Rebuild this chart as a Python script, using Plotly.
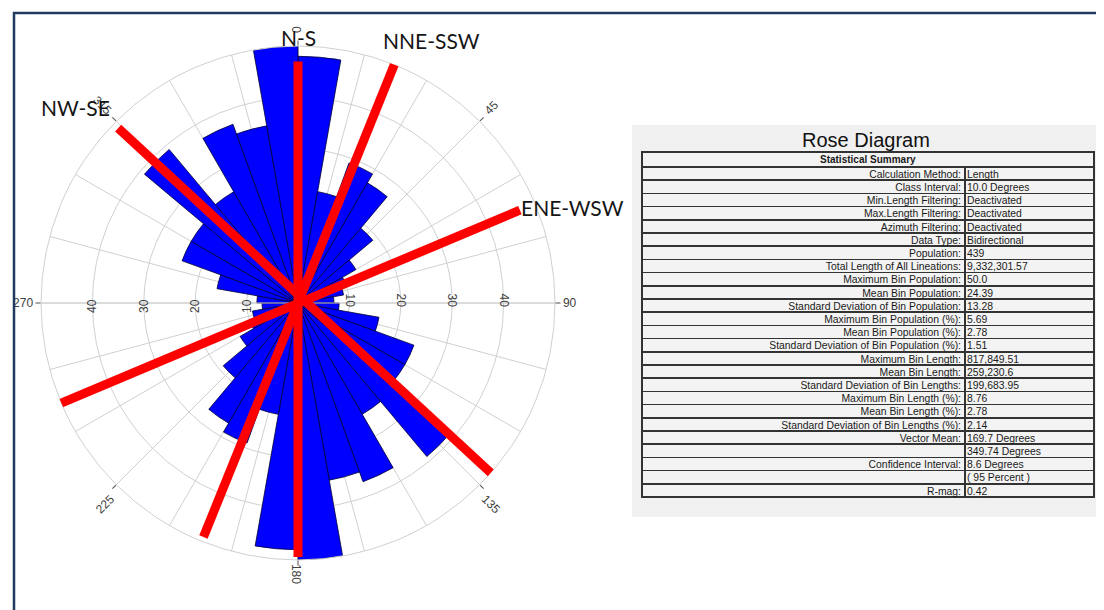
import math
import plotly.graph_objects as go

# ---------------- data ----------------
bin_start_deg = [0, 10, 20, 30, 40, 50, 60, 70, 80, 90, 100, 110, 120, 130, 140, 150, 160, 170]
bin_population = [48, 22, 29, 27, 19, 13, 10, 9, 7, 8, 16, 24, 24, 39, 25, 37, 35, 50]
bin_width_deg = 10

trend_names = ["N-S", "NNE-SSW", "ENE-WSW", "NW-SE"]
trend_theta_a = [0, 22, 67.3, 314.2]
trend_r_a = [47, 50.2, 46.8, 48.8]
trend_theta_b = [180, 202, 247.1, 131.5]
trend_r_b = [49.4, 49.1, 52.4, 54.6]
label_theta = [0, 27, 70.7, 311.2]
label_r = [51.7, 57.4, 56.5, 57.6]

radial_ticks = [10, 20, 30, 40]
angular_tick_groups = [[0, 180], [45, 225], [135, 315], [90, 270]]
angular_tick_angles = [90, -45, 45, 0]

summary_title = "Statistical Summary"
summary_labels = [
    "Calculation Method:", "Class Interval:", "Min.Length Filtering:", "Max.Length Filtering:",
    "Azimuth Filtering:", "Data Type:", "Population:", "Total Length of All Lineations:",
    "Maximum Bin Population:", "Mean Bin Population:", "Standard Deviation of Bin Population:",
    "Maximum Bin Population (%):", "Mean Bin Population (%):",
    "Standard Deviation of Bin Population (%):", "Maximum Bin Length:", "Mean Bin Length:",
    "Standard Deviation of Bin Lengths:", "Maximum Bin Length (%):", "Mean Bin Length (%):",
    "Standard Deviation of Bin Lengths (%):", "Vector Mean:", "", "Confidence Interval:", "", "R-mag:",
]
summary_values = [
    "Length", "10.0 Degrees", "Deactivated", "Deactivated", "Deactivated", "Bidirectional", "439",
    "9,332,301.57", "50.0", "24.39", "13.28", "5.69", "2.78", "1.51", "817,849.51", "259,230.6",
    "199,683.95", "8.76", "2.78", "2.14", "169.7 Degrees", "349.74 Degrees", "8.6 Degrees",
    "( 95 Percent )", "0.42",
]

# ---------------- layout helpers ----------------
OFF = 8                      # page body margin of the html page
W, H = 1104 - OFF, 610 - OFF
RMAX = 50


def px(x):
    return (x - OFF) / W


def py(y):
    return 1 - (y - OFF) / H


GRID = "#d0d0d0"
TICKFONT = dict(family="Liberation Sans, Arial, sans-serif", size=12, color="#404040")

cx, cy, R = 298, 303, 257    # polar centre / radius in page pixels


def polar_domain(dy=0):
    return dict(x=[px(cx - R), px(cx + R)], y=[py(cy + R + dy), py(cy - R + dy)])


dom = polar_domain()

# bidirectional: mirror each bin onto the opposite side
theta_centers = [b + bin_width_deg / 2 for b in bin_start_deg] + \
                [b + 180 + bin_width_deg / 2 for b in bin_start_deg]
r_values = bin_population + bin_population

fig = go.Figure()

fig.add_trace(go.Barpolar(
    r=r_values, theta=theta_centers, width=[bin_width_deg] * len(r_values),
    marker=dict(color="#0000ff", line=dict(color="#000033", width=0.8)),
    subplot="polar", showlegend=False, hoverinfo="skip",
))

subplots = ["polar2", "polar3", "polar4", "polar5"]
for i, name in enumerate(trend_names):
    fig.add_trace(go.Scatterpolar(
        r=[trend_r_a[i], trend_r_b[i]], theta=[trend_theta_a[i], trend_theta_b[i]],
        mode="lines", line=dict(color="#ff0000", width=9),
        cliponaxis=False, subplot=subplots[i], showlegend=False, hoverinfo="skip",
    ))

# empty carriers for the two radial tick-label overlays
for name in ["polar6", "polar7"]:
    fig.add_trace(go.Scatterpolar(r=[], theta=[], mode="markers", subplot=name,
                                  showlegend=False, hoverinfo="skip"))

main_polar = dict(
    domain=dom, bgcolor="white",
    radialaxis=dict(range=[0, RMAX], angle=0, tickmode="array", tickvals=radial_ticks,
                    showticklabels=False, showline=True, linecolor=GRID, linewidth=1,
                    gridcolor=GRID, gridwidth=1, ticks=""),
    angularaxis=dict(rotation=90, direction="clockwise", tickmode="linear", tick0=0, dtick=15,
                     showticklabels=False, ticks="", gridcolor=GRID, gridwidth=1,
                     showline=True, linecolor=GRID, linewidth=1),
)

layout_polars = {"polar": main_polar}
for k, name in enumerate(subplots):
    ra = dict(range=[0, RMAX], visible=False)
    if name == "polar2":
        ra = dict(range=[0, RMAX], angle=180, tickmode="array", tickvals=radial_ticks,
                  showticklabels=False, showline=True, linecolor=GRID, linewidth=1,
                  showgrid=False, ticks="")
    layout_polars[name] = dict(
        domain=dom, bgcolor="rgba(0,0,0,0)",
        radialaxis=ra,
        angularaxis=dict(rotation=90, direction="clockwise", tickmode="array",
                         tickvals=angular_tick_groups[k],
                         ticktext=[str(v) for v in angular_tick_groups[k]],
                         tickangle=angular_tick_angles[k], ticks="outside", ticklen=5,
                         tickcolor="#505050", showgrid=False, showline=False,
                         tickfont=TICKFONT),
    )

# radial tick labels on both sides, centred on the horizontal axis line
for name, ang, shift in [("polar6", 0, -10), ("polar7", 180, 10.5)]:
    layout_polars[name] = dict(
        domain=polar_domain(shift), bgcolor="rgba(0,0,0,0)",
        radialaxis=dict(range=[0, RMAX], angle=ang, tickangle=90, tickmode="array",
                        tickvals=radial_ticks, showline=False, showgrid=False, ticks="",
                        tickfont=TICKFONT),
        angularaxis=dict(rotation=90, direction="clockwise", showgrid=False, showline=False,
                         ticks="", showticklabels=False),
    )

fig.update_layout(**layout_polars)

# ---------------- summary table ----------------
tw_left, tw_right, col_div = 642, 1094, 965
head_top, head_h = 152, 15
body_top, row_h = 167, 13.2
TFONT = "Liberation Sans, Arial, sans-serif"
CELLFONT = dict(family=TFONT, size=10.4, color="#1a1a1a")
EDGE = dict(color="#333333", width=1.5)
NOEDGE = dict(color="rgba(0,0,0,0)", width=0)
CLEAR = "rgba(0,0,0,0)"
FILL = "#f3f3f3"
n_body = len(summary_labels) - 1
TEXT_SHIFT = 5               # plotly puts cell text low in short rows; lift the text layer

# ruled cells
fig.add_trace(go.Table(
    domain=dict(x=[px(tw_left), px(tw_right)], y=[py(body_top + 20), py(head_top)]),
    header=dict(values=[""], height=head_h, fill_color=FILL, line=EDGE),
    cells=dict(values=[[""]], height=row_h, fill_color=FILL, line=EDGE),
))
fig.add_trace(go.Table(
    domain=dict(x=[px(tw_left), px(tw_right)], y=[py(505), py(body_top)]),
    columnwidth=[col_div - tw_left, tw_right - col_div],
    header=dict(values=["", ""], height=row_h, fill_color=FILL, line=EDGE),
    cells=dict(values=[[""] * n_body, [""] * n_body], height=row_h, fill_color=FILL, line=EDGE),
))
# text layers
fig.add_trace(go.Table(
    domain=dict(x=[px(tw_left), px(tw_right)], y=[py(body_top + 20), py(head_top - 6)]),
    header=dict(values=["<b>" + summary_title + "</b>"], height=head_h, align="center",
                fill_color=CLEAR, line=NOEDGE,
                font=dict(family=TFONT, size=10, color="#1a1a1a")),
    cells=dict(values=[[""]], height=row_h, fill_color=CLEAR, line=NOEDGE),
))
fig.add_trace(go.Table(
    domain=dict(x=[px(tw_left), px(col_div + 5)], y=[py(505), py(body_top - TEXT_SHIFT)]),
    header=dict(values=[summary_labels[0]], height=row_h, align="right",
                fill_color=CLEAR, line=NOEDGE, font=CELLFONT),
    cells=dict(values=[summary_labels[1:]], height=row_h, align="right",
               fill_color=CLEAR, line=NOEDGE, font=CELLFONT),
))
fig.add_trace(go.Table(
    domain=dict(x=[px(col_div - 6), px(tw_right)], y=[py(505), py(body_top - TEXT_SHIFT)]),
    header=dict(values=[summary_values[0]], height=row_h, align="left",
                fill_color=CLEAR, line=NOEDGE, font=CELLFONT),
    cells=dict(values=[summary_values[1:]], height=row_h, align="left",
               fill_color=CLEAR, line=NOEDGE, font=CELLFONT),
))

# direction labels, placed at their polar (r, theta) position
annotations = []
for name, r, th in zip(trend_names, label_r, label_theta):
    rr = r / RMAX * R
    x = cx + rr * math.sin(math.radians(th))
    y = cy - rr * math.cos(math.radians(th))
    annotations.append(dict(text=name, xref="paper", yref="paper", x=px(x), y=py(y),
                            showarrow=False, xanchor="center", yanchor="middle",
                            font=dict(family="Lato, Carlito, sans-serif", size=21, color="#151515")))
annotations.append(dict(text="Rose Diagram", xref="paper", yref="paper", x=px(866), y=py(140),
                        showarrow=False, xanchor="center", yanchor="middle",
                        font=dict(family=TFONT, size=20, color="#111111")))

fig.update_layout(
    width=W, height=H, margin=dict(l=0, r=0, t=0, b=0),
    paper_bgcolor="white", showlegend=False,
    shapes=[
        dict(type="rect", xref="paper", yref="paper", x0=px(632), x1=px(1100),
             y0=py(517), y1=py(125), fillcolor="#f0f0f0", line=dict(width=0), layer="below"),
        dict(type="rect", xref="paper", yref="paper", x0=px(14), x1=1.1,
             y0=-0.1, y1=py(13), fillcolor="rgba(0,0,0,0)",
             line=dict(color="#1f3a5f", width=2.5), layer="above"),
    ],
    annotations=annotations,
)

fig.write_html("out.html")
